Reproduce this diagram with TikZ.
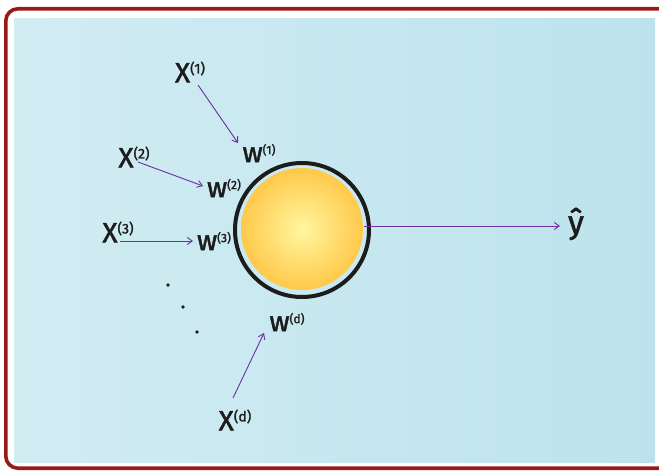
\documentclass[tikz,border=0pt]{standalone}
\usepackage{fontspec}
\setmainfont{Fira Sans}
\newfontfamily\hand{Fira Sans}[FakeBold=1.6]
\usetikzlibrary{arrows.meta}
\definecolor{frame}{HTML}{9A1A1A}
\definecolor{bgL}{HTML}{D2ECF2}
\definecolor{bgR}{HTML}{BCE3ED}
\definecolor{arr}{HTML}{6B2FA0}
\definecolor{sunC}{HTML}{FFF6A0}
\definecolor{sunE}{HTML}{FFC94A}
\definecolor{ink}{HTML}{1C1C1C}
\newcommand{\bigX}[1]{{\fontsize{28}{28}\selectfont X}\raisebox{9pt}{\fontsize{14}{14}\selectfont #1}}
\newcommand{\wlab}[1]{{\fontsize{28}{28}\selectfont w}\raisebox{8pt}{\fontsize{12}{12}\selectfont #1}}
\tikzset{
  lab/.style={inner sep=0pt, text=ink, font=\hand},
  conn/.style={arr, line width=0.9pt, -{Straight Barb[length=5pt,width=7pt]}},
  dot/.style={circle, fill=ink, inner sep=0pt, minimum size=3.6pt}
}
\begin{document}
\begin{tikzpicture}[x=1pt,y=-1pt]
\useasboundingbox (0,0) rectangle (659,473);
\fill[white] (0,0) rectangle (659,473);
\begin{scope}
\clip (0,0) rectangle (659,473);
\draw[frame, line width=3.6pt, rounded corners=12pt] (5.8,8.8) rectangle (675,468.2);
\end{scope}
\shade[left color=bgL, right color=bgR] (14,19) rectangle (655,462);
% neuron
\draw[ink, line width=4pt, fill=bgL!70!bgR] (302,230) circle [radius=67];
\shade[inner color=sunC, outer color=sunE] (302,229) circle [radius=61];
\node (sun) at (302,230) [circle, minimum size=134pt, inner sep=0pt] {};
% labels
\node[lab] (x1) at (190,72) {\bigX{(1)}};
\node[lab] (x2) at (134,157) {\bigX{(2)}};
\node[lab] (x3) at (118,232) {\bigX{(3)}};
\node[lab] (xd) at (235,420) {\bigX{(d)}};
\node[lab] (w1) at (259,153) {\wlab{(1)}};
\node[lab] (w2) at (224,188) {\wlab{(2)}};
\node[lab] (w3) at (214,241) {\wlab{(3)}};
\node[lab] (wd) at (287,322) {\wlab{(d)}};
\node[lab] (yh) at (576,224) {\fontsize{32}{32}\selectfont \^y};
\node[dot] (d1) at (168,285) {};
\node[dot] (d2) at (183,307) {};
\node[dot] (d3) at (197,332) {};
% connector ends
\coordinate (s1) at (198,85);  \coordinate (e1) at (238,143);
\coordinate (s2) at (138,162); \coordinate (e2) at (203,186);
\coordinate (s3) at (120,241); \coordinate (e3) at (193,241);
\coordinate (sd) at (233,398); \coordinate (ed) at (264,333);
\coordinate (so) at (364,226); \coordinate (eo) at (560,226);
\draw[conn] (s1) -- (e1);
\draw[conn] (s2) -- (e2);
\draw[conn] (s3) -- (e3);
\draw[conn] (sd) -- (ed);
\draw[conn] (so) -- (eo);
\end{tikzpicture}
\end{document}
